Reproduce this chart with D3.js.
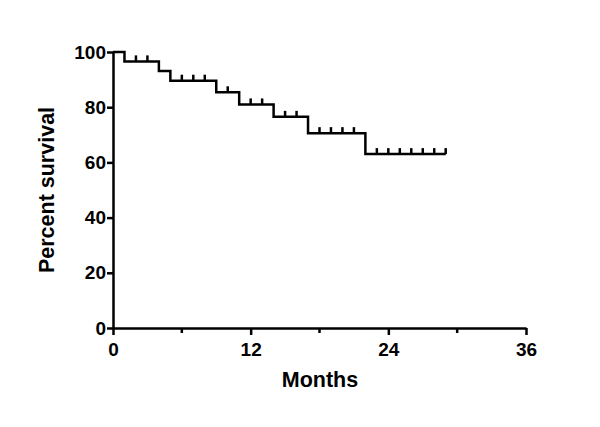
<!DOCTYPE html>
<html>
<head>
<meta charset="utf-8">
<script src="https://cdn.jsdelivr.net/npm/d3@7"></script>
<style>
  body { margin: 0; background: #fff; }
  text { font-family: Arial, "Liberation Sans", sans-serif; font-weight: bold; fill: #000; }
</style>
</head>
<body>
<svg id="chart" width="600" height="427"></svg>
<script>
// temps des événements (mois) et survie correspondante (%)
const eventTimes = [0, 1, 4, 5, 9, 11, 14, 17, 22];
const survival = [100, 96.6, 93.1, 89.6, 85.4, 81.0, 76.5, 70.6, 63.0];
const lastTime = 29;
// patients censurés
const censorTimes = [2, 3, 6, 7, 8, 10, 12, 13, 15, 16, 18, 19, 20, 21, 23, 24, 25, 26, 27, 28, 29];
const xTicks = [0, 12, 24, 36];
const xMinorTicks = [6, 18, 30];
const yTicks = [0, 20, 40, 60, 80, 100];

const svg = d3.select("#chart");
const x = d3.scaleLinear().domain([0, 36]).range([113, 526]);
const y = d3.scaleLinear().domain([0, 100]).range([328, 52]);

// survie à un instant t
function survieA(t) {
    let s = survival[0];
    for (let i = 0; i < eventTimes.length; i++) {
        if (eventTimes[i] <= t) s = survival[i];
    }
    return s;
}

// axe X
const xAxis = svg.append("g").attr("transform", "translate(0," + y(0) + ")")
    .call(d3.axisBottom(x).tickValues(xTicks).tickSize(7).tickSizeOuter(0).tickPadding(8));
xAxis.selectAll(".minor").data(xMinorTicks).enter().append("line")
    .attr("class", "minor")
    .attr("x1", d => x(d)).attr("x2", d => x(d))
    .attr("y1", 0).attr("y2", 5)
    .attr("stroke", "#000").attr("stroke-width", 2.5);

// axe Y
const yAxis = svg.append("g").attr("transform", "translate(" + x(0) + ",0)")
    .call(d3.axisLeft(y).tickValues(yTicks).tickSize(6).tickSizeOuter(0).tickPadding(1));

[xAxis, yAxis].forEach(ax => {
    ax.select(".domain").attr("stroke", "#000").attr("stroke-width", 2.5);
    ax.selectAll(".tick line").attr("stroke", "#000").attr("stroke-width", 2.5);
    ax.selectAll(".tick text").style("font-size", "19px").style("font-family", "Arial, 'Liberation Sans', sans-serif").style("font-weight", "bold");
});

// courbe en escalier
const pts = eventTimes.map((t, i) => [t, survival[i]]);
pts.push([lastTime, survival[survival.length - 1]]);
const line = d3.line().x(d => x(d[0])).y(d => y(d[1])).curve(d3.curveStepAfter);
svg.append("path").datum(pts)
    .attr("d", line)
    .attr("fill", "none").attr("stroke", "#000").attr("stroke-width", 2.5);

// marques de censure
svg.selectAll(".censor").data(censorTimes).enter().append("line")
    .attr("class", "censor")
    .attr("x1", d => x(d)).attr("x2", d => x(d))
    .attr("y1", d => y(survieA(d))).attr("y2", d => y(survieA(d)) - 6)
    .attr("stroke", "#000").attr("stroke-width", 2.5);

// titres des axes
svg.append("text").attr("x", 320).attr("y", 387)
    .attr("text-anchor", "middle").style("font-size", "21.5px").text("Months");
svg.append("text").attr("transform", "translate(54,190) rotate(-90)")
    .attr("text-anchor", "middle").style("font-size", "21.5px").text("Percent survival");
</script>
</body>
</html>
